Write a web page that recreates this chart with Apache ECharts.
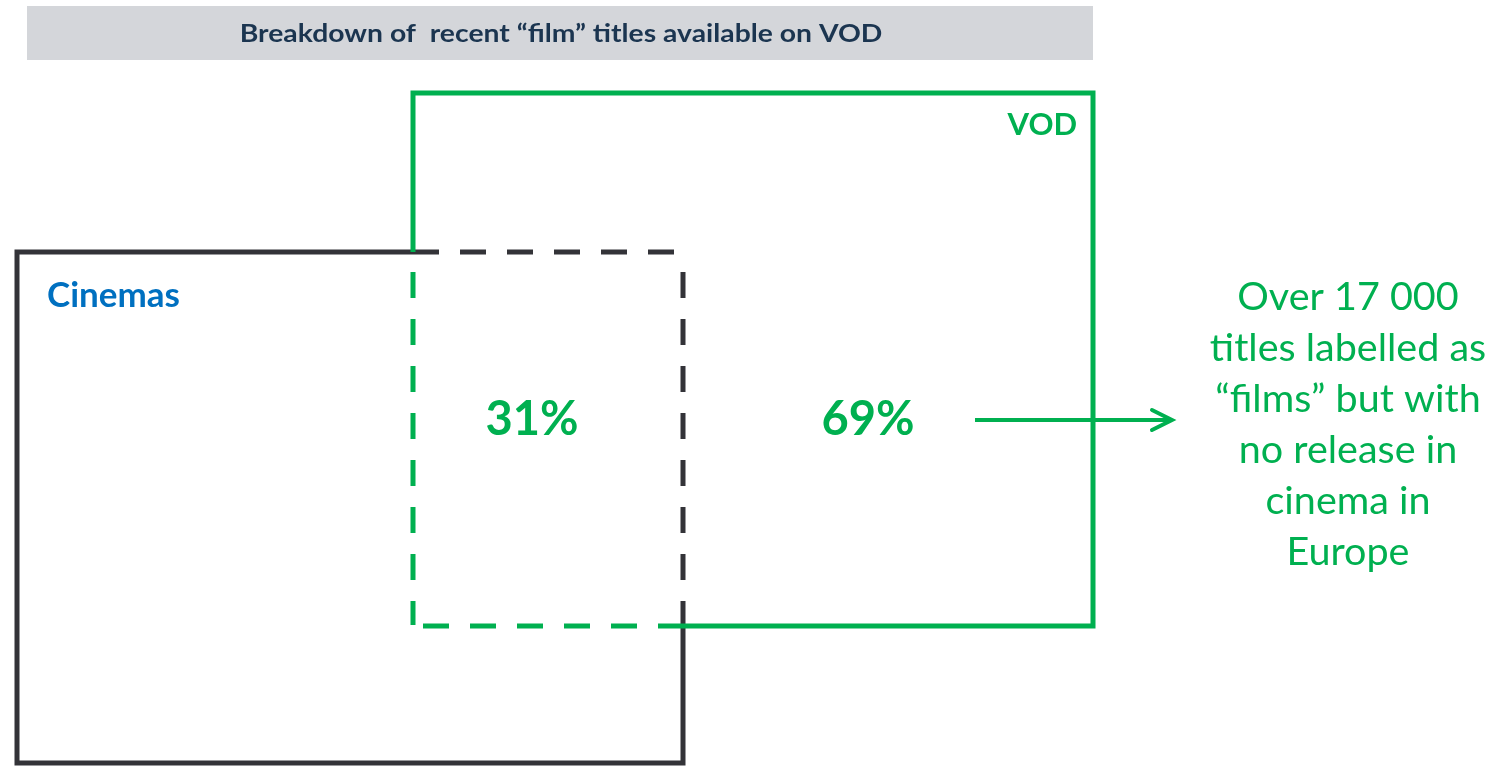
<!DOCTYPE html>
<html>
<head>
<meta charset="utf-8">
<script src="https://cdn.jsdelivr.net/npm/echarts@6/dist/echarts.min.js"></script>
<style>
  html, body { margin: 0; padding: 0; background: #fff; }
  #chart { width: 1500px; height: 766px; }
</style>
</head>
<body>
<div id="chart"></div>
<script>
// data
const title = 'Breakdown of  recent \u201cfilm\u201d titles available on VOD'
const sets = ['Cinemas', 'VOD']
const shares = [31, 69]            // overlap (also in cinemas), VOD only
const note = ['Over 17 000', 'titles labelled as', '\u201cfilms\u201d but with', 'no release in', 'cinema in', 'Europe']

const GREEN = '#00b050'
const DARK = '#333338'
const BLUE = '#0070c0'

// layout, in page pixels (axes span the whole canvas)
const boxes = {
  Cinemas: { x0: 17, y0: 252, x1: 683, y1: 763 },
  VOD: { x0: 413, y0: 93, x1: 1093, y1: 626 }
}

const chart = echarts.init(document.getElementById('chart'))

function seg (api, pts, color, dashed) {
  return {
    type: 'polyline',
    shape: { points: pts.map(p => api.coord(p)) },
    style: {
      stroke: color,
      lineWidth: 5,
      fill: null,
      lineDash: dashed ? [26, 21] : null,
      lineCap: 'butt',
      lineJoin: 'miter'
    }
  }
}

function renderBoxes (params, api) {
  const c = boxes.Cinemas
  const v = boxes.VOD
  return {
    type: 'group',
    children: [
      // cinemas: solid outside VOD, dashed inside
      seg(api, [[c.x1, v.y1 - 24], [c.x1, c.y1], [c.x0, c.y1], [c.x0, c.y0], [v.x0, c.y0]], DARK, false),
      seg(api, [[v.x0, c.y0], [c.x1 + 3, c.y0]], DARK, true),
      seg(api, [[c.x1, c.y0 + 20], [c.x1, v.y1 - 24]], DARK, true),
      // vod: solid outside cinemas, dashed inside
      seg(api, [[c.x1, v.y1], [v.x1, v.y1], [v.x1, v.y0], [v.x0, v.y0], [v.x0, c.y0]], GREEN, false),
      seg(api, [[v.x0, c.y0 + 20], [v.x0, v.y1 - 1]], GREEN, true),
      seg(api, [[v.x0 + 10, v.y1], [c.x1, v.y1]], GREEN, true),
      {
        type: 'text',
        style: {
          x: api.coord([c.x0 + 30, 0])[0], y: api.coord([0, 296])[1],
          text: sets[0], fill: BLUE, font: 'bold 35px Lato, "Open Sans", sans-serif',
          verticalAlign: 'middle', align: 'left'
        }
      },
      {
        type: 'text',
        style: {
          x: api.coord([v.x1 - 16, 0])[0], y: api.coord([0, 125])[1],
          text: sets[1], fill: GREEN, font: 'bold 31px Lato, "Open Sans", sans-serif',
          verticalAlign: 'middle', align: 'right'
        }
      }
    ]
  }
}

// share labels: overlap centred in the dashed zone, VOD-only in the rest
const shareX = [532, 868]
const shareY = 420

function renderShare (params, api) {
  const p = api.coord([shareX[params.dataIndex], shareY])
  return {
    type: 'text',
    style: {
      x: p[0], y: p[1],
      text: api.value(0) + '%',
      fill: GREEN,
      font: 'bold 47px Lato, "Open Sans", sans-serif',
      align: 'center', verticalAlign: 'middle'
    }
  }
}

function renderNote (params, api) {
  const a = api.coord([975, shareY])
  const b = api.coord([1172, shareY])
  const children = [
    { type: 'line', shape: { x1: a[0], y1: a[1], x2: b[0], y2: b[1] },
      style: { stroke: GREEN, lineWidth: 4 } },
    { type: 'polyline', shape: { points: [[b[0] - 20, b[1] - 10], [b[0], b[1]], [b[0] - 20, b[1] + 10]] },
      style: { stroke: GREEN, lineWidth: 4, fill: null, lineCap: 'round', lineJoin: 'miter' } }
  ]
  note.forEach((line, i) => {
    const p = api.coord([1348, 297 + i * 51])
    children.push({
      type: 'text',
      style: {
        x: p[0], y: p[1], text: line, fill: GREEN,
        font: '39.5px Lato, "Open Sans", sans-serif',
        align: 'center', verticalAlign: 'middle'
      }
    })
  })
  return { type: 'group', children }
}

const option = {
  animation: false,
  graphic: [
    {
      type: 'rect',
      shape: { x: 27, y: 6, width: 1066, height: 54 },
      style: { fill: '#d4d6da' },
      z: 0
    },
    {
      type: 'text',
      x: 561, y: 34,
      scaleX: 1.18,
      style: {
        text: title, fill: '#1b3550',
        font: 'bold 24px Lato, "Open Sans", sans-serif',
        align: 'center', verticalAlign: 'middle'
      },
      z: 1
    }
  ],
  grid: { left: 0, right: 0, top: 0, bottom: 0 },
  xAxis: { type: 'value', min: 0, max: 1500, show: false },
  yAxis: { type: 'value', min: 0, max: 766, inverse: true, show: false },
  series: [
    { type: 'custom', renderItem: renderBoxes, data: [[0]], silent: true },
    { type: 'custom', renderItem: renderShare, data: shares.map(v => [v]), silent: true },
    { type: 'custom', renderItem: renderNote, data: [[0]], silent: true }
  ]
}

chart.setOption(option)
window.addEventListener('resize', () => chart.resize())
</script>
</body>
</html>
